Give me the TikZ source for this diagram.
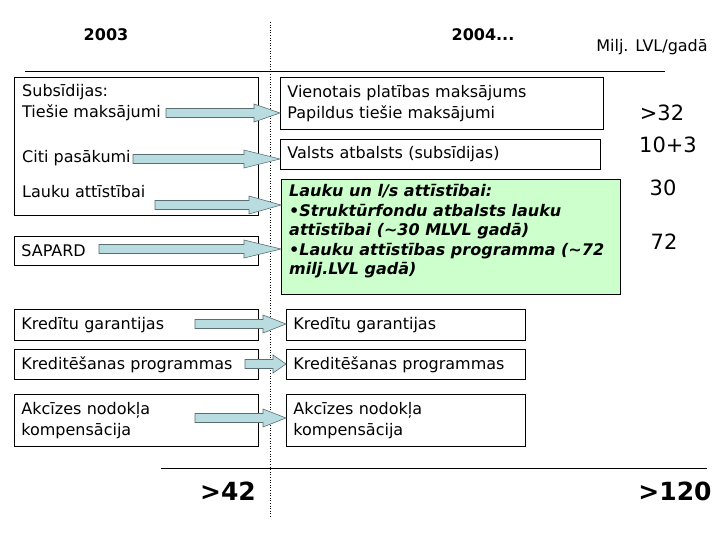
\documentclass[tikz,border=0pt]{standalone}
\usepackage{fontspec}
\setmainfont{DejaVu Sans}
\usetikzlibrary{calc}
\definecolor{ArrowFill}{HTML}{B8DCE0}
\definecolor{ArrowEdge}{HTML}{5A6E70}
\definecolor{RuralGreen}{HTML}{CCFFCC}
\newcommand{\boxfont}{\fontsize{16}{21}\selectfont}
\newcommand{\greenfont}{\fontsize{16}{19.6}\selectfont\bfseries\itshape}
% block arrow from a start coordinate to the west side of a box
\newcommand{\blockarrow}[3]{%
  \draw[blockarr] let \p1=(#1), \p2=(#1 -| #2.west) in
    (\x1,\y1+4.5pt) -- (\x2-#3pt,\y1+4.5pt) -- (\x2-#3pt,\y1+9pt) -- (\x2,\y1)
    -- (\x2-#3pt,\y1-9pt) -- (\x2-#3pt,\y1-4.5pt) -- (\x1,\y1-4.5pt) -- cycle;}
\tikzset{
  box/.style={draw=black, line width=0.8pt, anchor=north west, inner xsep=7pt,
              inner ysep=0pt, align=left, font=\boxfont},
  txt/.style={anchor=west, inner sep=0pt, align=left, font=\boxfont},
  yearlbl/.style={font=\fontsize{16}{19}\selectfont\bfseries, inner sep=0pt},
  unitlbl/.style={font=\fontsize{16}{19}\selectfont, inner sep=0pt},
  amount/.style={font=\fontsize{21}{25}\selectfont, inner sep=0pt},
  total/.style={font=\fontsize{25}{30}\selectfont\bfseries, inner sep=0pt},
  rule/.style={line width=0.8pt},
  blockarr/.style={fill=ArrowFill, draw=ArrowEdge, line width=0.6pt, line join=miter},
}
\begin{document}
\begin{tikzpicture}[x=1pt, y=-1pt]
\useasboundingbox (0,0) rectangle (720,540);
% headings
\node[yearlbl] (y2003) at (106,35) {2003};
\node[yearlbl] (y2004) at (483,35) {2004...};
\node[unitlbl] (unit) at (652,47) {Milj. LVL/gadā};
\draw[rule] (25,71) -- (665,71);
\draw[dotted, line width=0.6pt] (270,22) -- (270,517);
% 2003 column
\node[box, minimum width=244pt, minimum height=138pt] (subsL) at (14,77) {};
\node[txt] (subsT) at (22,102.5) {Subsīdijas:\\Tiešie maksājumi};
\node[txt] (citiT) at (22,158) {Citi pasākumi};
\node[txt] (laukuT) at (22,192) {Lauku attīstībai};
\node[box, text width=230pt, minimum height=29pt] (sapard) at (14,236) {SAPARD};
\node[box, text width=230pt, minimum height=31pt] (kredL) at (14,309) {Kredītu garantijas};
\node[box, text width=230pt, minimum height=30pt] (kreditL) at (14,349) {Kreditēšanas programmas};
\node[box, text width=230pt, minimum height=52pt] (akcL) at (14,394) {Akcīzes nodokļa\\kompensācija};
% 2004 column
\node[box, text width=309pt, minimum height=52pt] (vienot) at (280,77) {Vienotais platības maksājums\\Papildus tiešie maksājumi};
\node[box, text width=306pt, minimum height=30pt] (valsts) at (280,139) {Valsts atbalsts (subsīdijas)};
\node[box, fill=RuralGreen, minimum width=339pt, minimum height=115pt] (lauku) at (281,179) {};
\node[anchor=north west, inner sep=0pt, align=left, font=\greenfont] (laukuR) at (289,184)
  {Lauku un l/s attīstībai:\\
   •Struktūrfondu atbalsts lauku\\
   attīstībai (\textasciitilde30 MLVL gadā)\\
   •Lauku attīstības programma (\textasciitilde72\\
   milj.LVL gadā)};
\node[box, text width=225pt, minimum height=31pt] (kredR) at (286,309) {Kredītu garantijas};
\node[box, text width=225pt, minimum height=30pt] (kreditR) at (286,349) {Kreditēšanas programmas};
\node[box, text width=225pt, minimum height=52pt] (akcR) at (286,394) {Akcīzes nodokļa\\kompensācija};
% amounts
\node[amount] (m1) at (662,113) {>32};
\node[amount] (m2) at (668,145) {10+3};
\node[amount] (m3) at (663,188) {30};
\node[amount] (m4) at (664,242) {72};
% arrows
\coordinate (a1) at (166,113);
\coordinate (a2) at (133,159);
\coordinate (a3) at (155,205);
\coordinate (a4) at (99,249);
\coordinate (a5) at (195,324);
\coordinate (a6) at (245,364);
\coordinate (a7) at (195,418);
\blockarrow{a1}{vienot}{26}
\blockarrow{a2}{valsts}{36}
\blockarrow{a3}{lauku}{32}
\blockarrow{a4}{lauku}{37}
\blockarrow{a5}{kredR}{23}
\blockarrow{a6}{kreditR}{13}
\blockarrow{a7}{akcR}{23}
% totals
\draw[rule] (161,468) -- (707,468);
\node[total] (t2003) at (228,491) {>42};
\node[total] (t2004) at (675,491) {>120};
\end{tikzpicture}
\end{document}
